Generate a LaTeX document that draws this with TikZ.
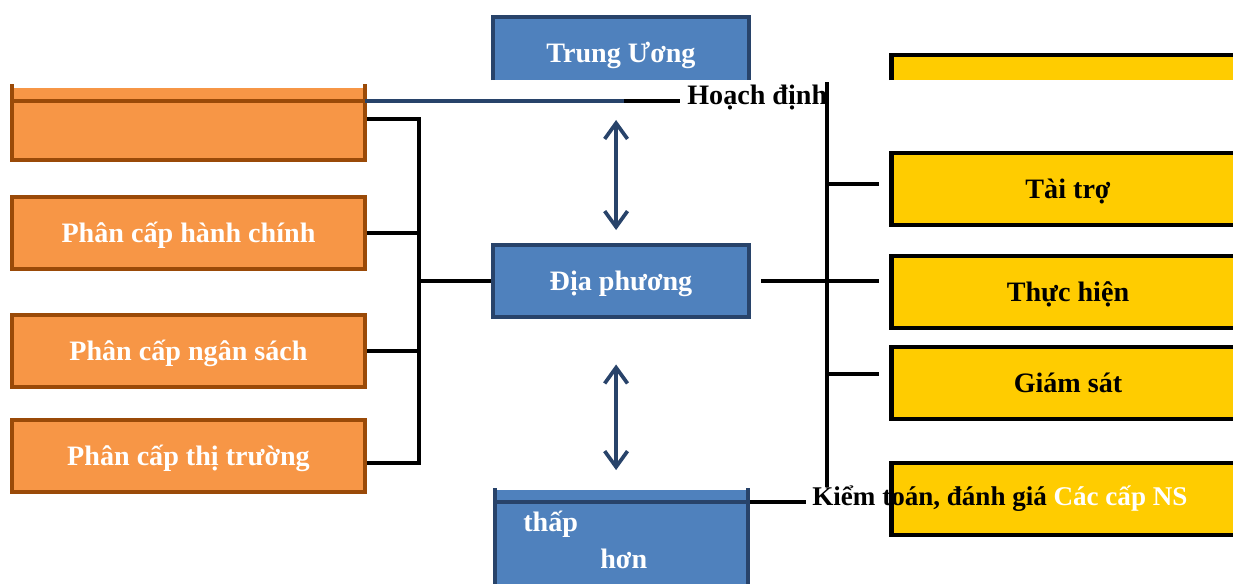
\documentclass[tikz,border=0pt]{standalone}
\usepackage{fontspec}
\setmainfont{Liberation Serif}
\usetikzlibrary{arrows, arrows.meta}

\definecolor{orfill}{HTML}{F79646}
\definecolor{orline}{HTML}{9A4A08}
\definecolor{blfill}{HTML}{4F81BD}
\definecolor{blline}{HTML}{28436A}
\definecolor{yefill}{HTML}{FFCC00}

\tikzset{
  txt/.style={font=\fontsize{16}{21}\selectfont\bfseries},
  box/.style={txt, rectangle, inner sep=0pt, line width=2.8pt, minimum width=7.06cm, text height=0.9cm, text depth=0.54cm, anchor=base},
  orbox/.style={box, fill=orfill, draw=orline, text=white},
  blbox/.style={box, fill=blfill, draw=blline, text=white, minimum width=5.12cm},
  yebox/.style={box, fill=yefill, draw=black, text=black},
  obord/.style={orline, line width=2.8pt},
  bbord/.style={blline, line width=2.8pt},
  link/.style={black, line width=2.3pt},
  updown/.style={blline, line width=2.1pt, {Straight Barb[length=9pt,width=13pt]}-{Straight Barb[length=9pt,width=13pt]}}
}

\begin{document}
\begin{tikzpicture}[x=0.02cm, y=-0.02cm]
\useasboundingbox (0,0) rectangle (1233,583);
\clip (0,0) rectangle (1233,583);

% left column
\node[orbox, draw=none] (ob1) at (188.5,133) {};
\draw[obord] (12,84) -- (12,162); \draw[obord] (365,84) -- (365,162);
\draw[obord] (12,160) -- (365,160); \draw[obord] (12,101) -- (365,101);
\node[orbox] (ob2) at (188.5,242) {Phân cấp hành chính};
\node[orbox] (ob3) at (188.5,360) {Phân cấp ngân sách};
\node[orbox] (ob4) at (188.5,465) {Phân cấp thị trường};

% middle column
\node[blbox, draw=none, outer sep=0pt, text depth=0.36cm] (tw) at (621,62) {Trung Ương};
\draw[bbord] (tw.south west) -- (tw.north west) -- (tw.north east) -- (tw.south east);
\node[blbox] (dp) at (621,290) {Địa phương};
\node[blbox, draw=none, text depth=1.4cm] (lo) at (621,535) {};
\draw[bbord] (495,488) -- (495,600); \draw[bbord] (748,488) -- (748,600);
\draw[bbord] (495,502) -- (748,502);
\node[txt, text=white, anchor=base west, inner sep=0pt] (thp) at (523,531) {thấp};
\node[txt, text=white, anchor=base west, inner sep=0pt] (hon) at (600,568) {hơn};

% right column
\node[yebox, draw=none, outer sep=0pt, text height=0.5cm, text depth=0cm] (y0) at (1068,80) {};
\draw[link, line width=2.8pt] (y0.south west) -- (y0.north west) -- (y0.north east);
\node[yebox] (tt) at (1068,198) {Tài trợ};
\node[yebox] (thh) at (1068,301) {Thực hiện};
\node[yebox] (gs) at (1068,392) {Giám sát};
\node[yebox] (y4) at (1068,508) {};

% left bracket
\coordinate (lt) at (419,119);
\coordinate (lb) at (419,463);
\draw[link] (ob1.east |- lt) -- (lt) -- (lb) -- (ob4.east |- lb);
\draw[link] (ob2.east) -- (ob2.east -| lt);
\draw[link] (ob3.east) -- (ob3.east -| lt);
\draw[link] (lt |- dp.west) -- (dp.west);

% arrows up and down
\draw[updown, shorten <=0.8cm, shorten >=0.25cm] ([xshift=-2.8pt]tw.south) -- ([xshift=-2.8pt]dp.north);
\draw[updown, shorten <=0.9cm, shorten >=0.35cm] ([xshift=-2.8pt]dp.south) -- ([xshift=-2.8pt]lo.north);

% right bracket
\coordinate (rt) at (827,82);
\coordinate (rb) at (827,487);
\coordinate (ttw) at ([yshift=3pt]tt.west);
\coordinate (gsw) at ([yshift=5pt]gs.west);
\draw[link] (rt) -- (rb);
\draw[link, shorten >=0.2cm] (rt |- ttw) -- (ttw);
\draw[link, shorten >=0.2cm] (rt |- gsw) -- (gsw);
\draw[link, shorten <=0.2cm, shorten >=0.2cm] (dp.east) -- (dp.east -| thh.west);

% Hoach dinh
\node[txt, anchor=base west, inner xsep=0.14cm, inner ysep=0pt] (hd) at (680,104) {Hoạch định};
\coordinate (hm) at (624,101);
\draw[bbord] (365,101) -- (hm);
\draw[link] (hm) -- (hm -| hd.west);

% Kiem toan
\node[txt, font=\fontsize{15.4}{20}\selectfont\bfseries, anchor=base west, inner xsep=0.12cm, inner ysep=0pt] (kt) at (806,505) {Kiểm toán, đánh giá \textcolor{white}{Các cấp NS}};
\coordinate (lor) at (750,502);
\draw[link] (lor) -- (lor -| kt.west);

\end{tikzpicture}
\end{document}
